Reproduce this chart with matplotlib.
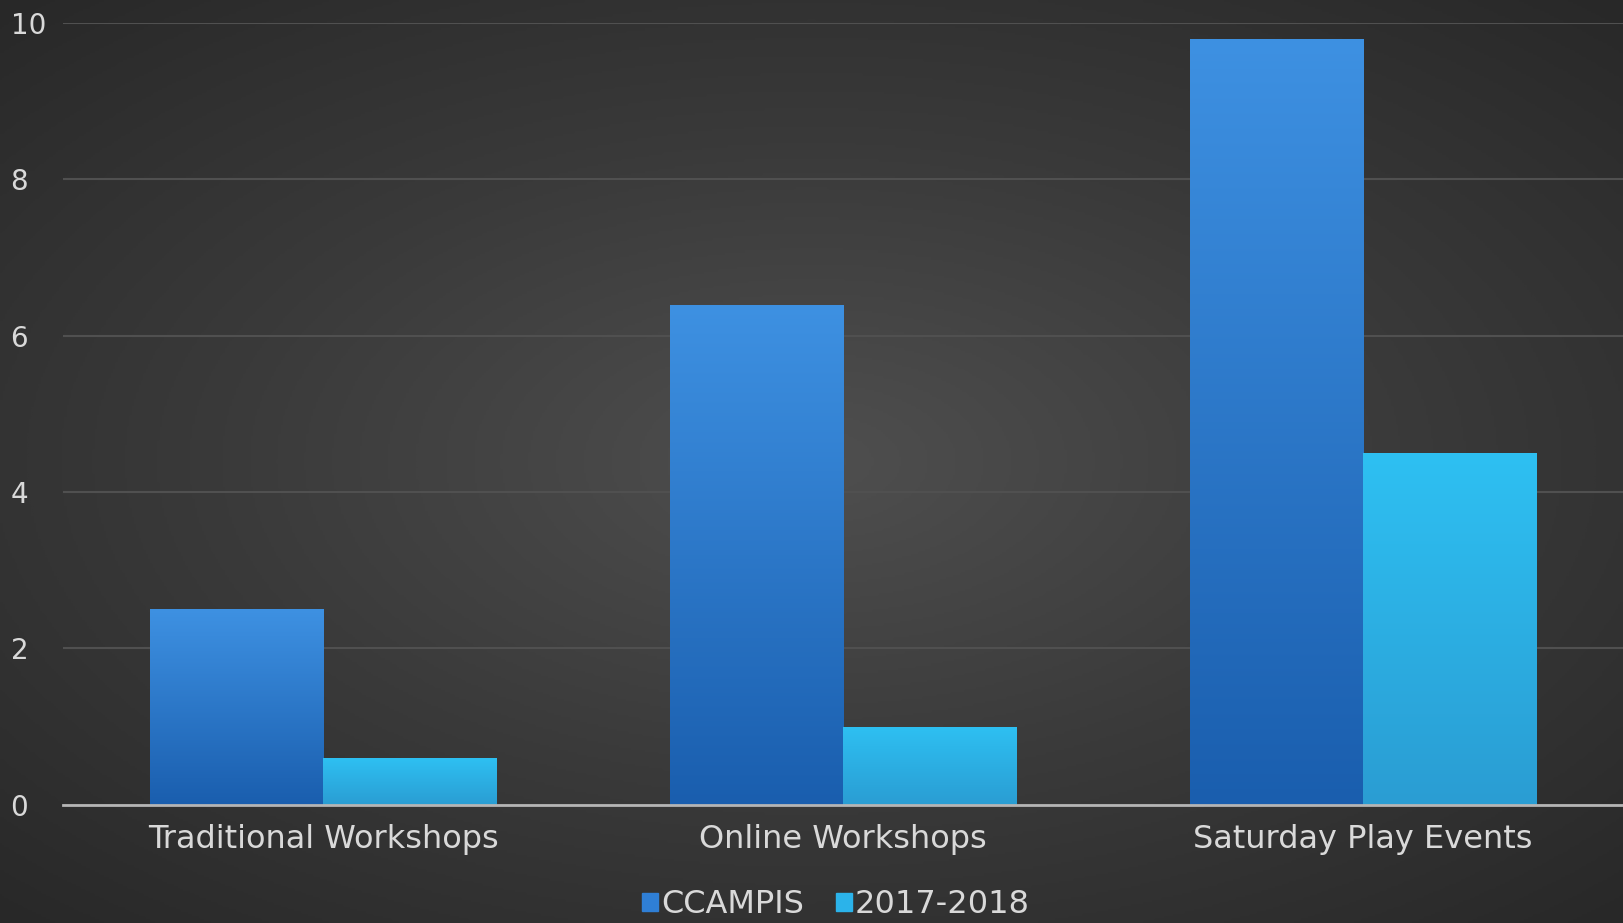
import numpy as np
import matplotlib
matplotlib.use("Agg")
import matplotlib.pyplot as plt
from matplotlib.patches import Rectangle

categories = ["Traditional Workshops", "Online Workshops", "Saturday Play Events"]
ccampis = [2.5, 6.4, 9.8]
year_1718 = [0.6, 1.0, 4.5]
series_names = ["CCAMPIS", "2017-2018"]
yticks = [0, 2, 4, 6, 8, 10]

TEXT = "#d9d9d9"
GRID = "#505050"


def gradient_fill(ax, bars, top, bottom):
    # vertical gradient clipped to each bar
    top = np.array(matplotlib.colors.to_rgb(top))
    bottom = np.array(matplotlib.colors.to_rgb(bottom))
    t = np.linspace(0, 1, 256)[:, None]
    img = (bottom * (1 - t) + top * t)[:, None, :]
    for b in bars:
        x0, y0 = b.get_x(), b.get_y()
        w, h = b.get_width(), b.get_height()
        im = ax.imshow(img, extent=[x0, x0 + w, y0, y0 + h], origin="lower",
                       aspect="auto", zorder=b.get_zorder() + 0.1)
        im.set_clip_path(b)
        b.set_alpha(0)


fig = plt.figure(figsize=(16.23, 9.23), dpi=100)

# radial dark background
bg = fig.add_axes([0, 0, 1, 1], zorder=-10)
yy, xx = np.mgrid[-1:1:400j, -1:1:700j]
r = np.sqrt((xx * 0.95) ** 2 + (yy * 1.0) ** 2)
bg.imshow(np.clip(r, 0, 1.4), cmap=matplotlib.colors.LinearSegmentedColormap.from_list(
    "bg", ["#4f4f4f", "#3a3a3a", "#282828"]), extent=[0, 1, 0, 1], aspect="auto")
bg.axis("off")

ax = fig.add_axes([0.039, 0.128, 0.961, 0.847])
ax.patch.set_alpha(0)

x = np.arange(len(categories))
w = 1 / 3
b1 = ax.bar(x - w / 2, ccampis, w, color="#2f7fd6", label=series_names[0], zorder=3)
b2 = ax.bar(x + w / 2, year_1718, w, color="#2bb3ea", label=series_names[1], zorder=3)
gradient_fill(ax, b1, "#3e91e2", "#1a5eae")
gradient_fill(ax, b2, "#2ec0f2", "#2a9dd3")

ax.set_xlim(-0.5, len(categories) - 0.5)
ax.set_ylim(0, 10)
ax.set_yticks(yticks)
ax.set_xticks(x)
ax.set_xticklabels(categories)
ax.yaxis.grid(True, color=GRID, lw=1.5, zorder=0)
ax.set_axisbelow(True)
for s in ["top", "right", "left"]:
    ax.spines[s].set_visible(False)
ax.spines["bottom"].set_color("#b5b5b5")
ax.spines["bottom"].set_linewidth(2)
ax.spines["bottom"].set_zorder(5)
ax.tick_params(axis="y", length=0, colors=TEXT, labelsize=20, pad=38)
ax.tick_params(axis="x", length=0, colors=TEXT, labelsize=23, pad=14)
for lab in ax.get_yticklabels():
    lab.set_horizontalalignment("left")

handles = [Rectangle((0, 0), 1, 1, color="#2f7fd6"), Rectangle((0, 0), 1, 1, color="#2bb3ea")]
fig.legend(handles, series_names, loc="center", bbox_to_anchor=(0.515, 0.02), ncol=2,
           frameon=False, fontsize=23, labelcolor=TEXT, handlelength=0.5,
           handleheight=0.5, handletextpad=0.1, columnspacing=1.0)

fig.savefig("out.png", dpi=100)
